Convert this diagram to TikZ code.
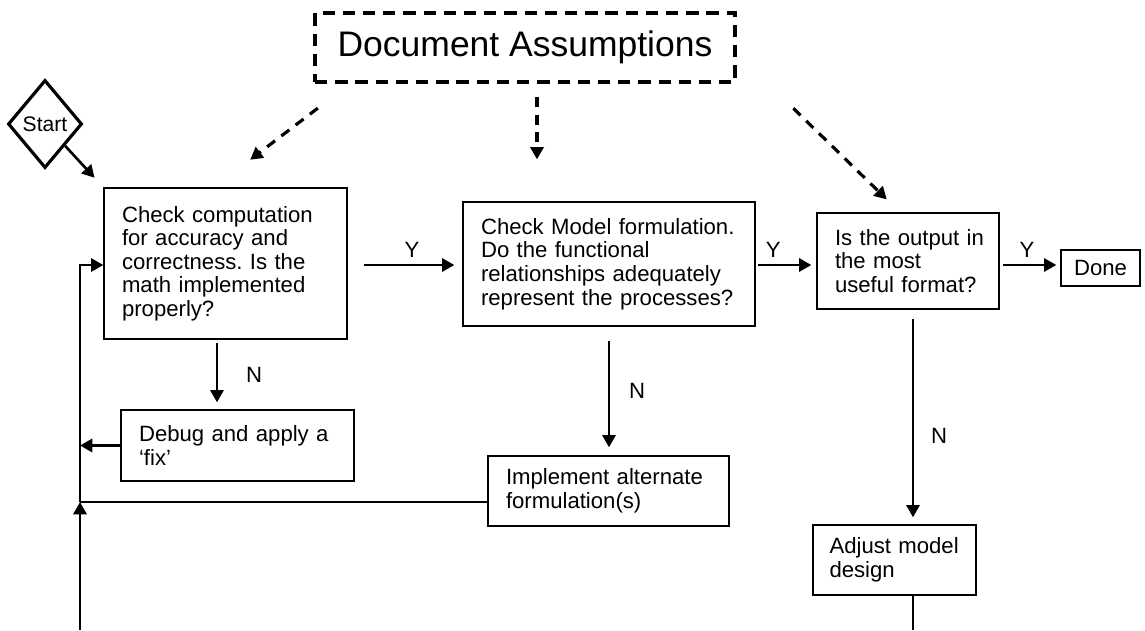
\documentclass[tikz,border=0pt]{standalone}
\usepackage{fontspec}
\setmainfont{Liberation Sans}
\usetikzlibrary{arrows.meta,shapes.geometric,calc}
\frenchspacing

\begin{document}
\begin{tikzpicture}[
  x=0.02cm, y=-0.02cm,
  box/.style={draw, line width=0.8pt, align=left, inner sep=0pt, font=\fontsize{12.6}{13.4}\selectfont},
  startbox/.style={draw, diamond, line width=1.8pt, inner sep=0pt, minimum width=1.48cm, minimum height=1.76cm, font=\fontsize{12}{13}\selectfont},
  assume/.style={draw, line width=1.8pt, dash pattern=on 7pt off 4.5pt, minimum width=8.4cm, minimum height=1.38cm, font=\fontsize{20.2}{24}\selectfont},
  arr/.style={-{Triangle[length=7pt,width=7.5pt]}, line width=1.5pt},
  dasharr/.style={arr, dash pattern=on 5.7pt off 4.5pt, line width=1.8pt},
  link/.style={line width=1.5pt},
  lbl/.style={font=\fontsize{12.6}{13.4}\selectfont}
]
  \useasboundingbox (0,0) rectangle (1145,630);

  \node[assume] (title) at (525,47.5) {Document Assumptions};
  \node[startbox] (start) at (45,124) {Start};

  \node[box, minimum width=4.86cm, minimum height=3.02cm, text width=4.14cm] (box1) at (225.5,263.5)
    {Check computation\\ for accuracy and\\ correctness. Is the\\ math implemented\\ properly?};
  \node[box, minimum width=5.84cm, minimum height=2.48cm, text width=5.12cm] (model) at (609,264)
    {Check Model formulation.\\ Do the functional\\ relationships adequately\\ represent the processes?};
  \node[box, minimum width=3.64cm, minimum height=1.92cm, text width=2.92cm] (output) at (908,261)
    {\mbox{Is the output in}\\ the most\\ useful format?};
  \node[box, align=center, minimum width=1.58cm, minimum height=0.72cm] (done) at (1100.5,268) {Done};
  \node[box, minimum width=4.66cm, minimum height=1.42cm, text width=3.94cm] (debug) at (237.5,445.5)
    {Debug and apply a\\ ‘fix’};
  \node[box, minimum width=4.82cm, minimum height=1.4cm, text width=4.1cm] (impl) at (608.5,491)
    {Implement alternate\\ formulation(s)};
  \node[box, minimum width=3.26cm, minimum height=1.4cm, text width=2.6cm] (adjust) at (894.5,560)
    {\mbox{Adjust model}\\ design};

  \coordinate (yrow) at (0,265);
  \coordinate (jn) at (80,502);
  \coordinate (loopbot) at (80,630);
  \coordinate (adjbot) at (913,630);

  % assumptions feed every check
  \draw[dasharr, shorten <=0.81cm, shorten >=0.91cm] ([xshift=-3.5cm]title.south) -- ([xshift=-0.23cm]box1.north);
  \draw[dasharr, shorten <=0.26cm, shorten >=0.84cm] ([xshift=0.24cm]title.south) -- ([xshift=0.24cm]title.south |- model.north);
  \draw[dasharr, shorten <=0.71cm, shorten >=0.37cm] ([xshift=4.86cm]title.south) -- ([xshift=-0.16cm]output.north);

  \draw[arr, shorten >=0.26cm] (start) -- (box1.north west);

  % yes path
  \draw[arr, shorten <=0.32cm, shorten >=0.16cm] (box1.east |- yrow) -- node[lbl, above, pos=0.56] {Y} (model.west |- yrow);
  \draw[arr, shorten <=0.04cm, shorten >=0.1cm] (model.east |- yrow) -- node[lbl, above, pos=0.29] {Y} (output.west |- yrow);
  \draw[arr, shorten <=0.06cm, shorten >=0.08cm] (output.east |- yrow) -- node[lbl, above, pos=0.45] {Y} (done.west |- yrow);

  % no path
  \draw[arr, shorten <=0.06cm, shorten >=0.14cm] ([xshift=-0.17cm]box1.south) -- node[lbl, right=0.44cm] {N} ([xshift=-0.17cm]box1.south |- debug.north);
  \draw[arr, shorten <=0.28cm, shorten >=0.16cm] (model.south) -- node[lbl, right=0.26cm] {N} (model.south |- impl.north);
  \draw[arr, shorten <=0.18cm, shorten >=0.14cm] ([xshift=0.1cm]output.south) -- node[lbl, right=0.22cm, pos=0.59] {N} ([xshift=0.1cm]output.south |- adjust.north);

  % loop back
  \draw[arr] (debug.west) -- (debug.west -| jn);
  \draw[link] (impl.west |- jn) -- (jn);
  \draw[arr] (loopbot) -- (jn);
  \draw[arr] (jn) -- (jn |- yrow) -- (box1.west |- yrow);
  \draw[link] (adjust.south -| adjbot) -- (adjbot);
\end{tikzpicture}
\end{document}
